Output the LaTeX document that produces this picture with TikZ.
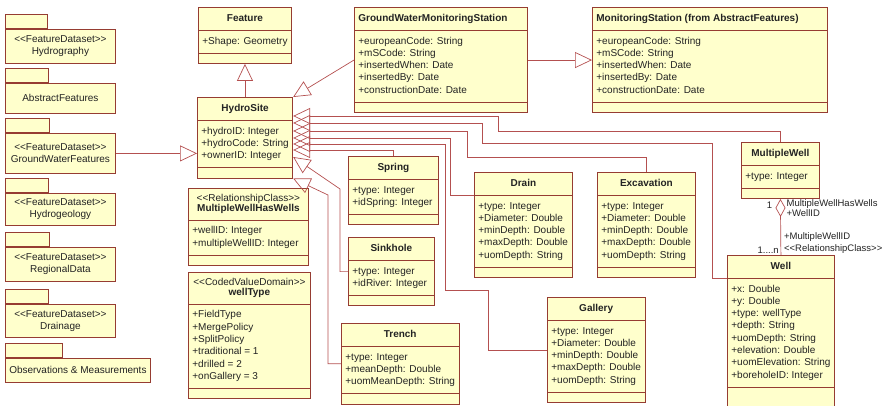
\documentclass[tikz,border=0pt]{standalone}
\usepackage{fontspec}
\setmainfont{Liberation Sans}
\usepackage{tikz}
\usetikzlibrary{arrows.meta,positioning,shapes.multipart}
\usepackage{xcolor}
\definecolor{umlfill}{RGB}{255,255,204}
\definecolor{umledge}{RGB}{150,60,50}
\definecolor{umlline}{RGB}{180,80,80}
\definecolor{umltext}{RGB}{35,35,35}
\tikzset{>=latex}
\newcommand{\umlfont}{\fontsize{10}{12.3}\selectfont}
\newcommand{\stype}[1]{<\kern0pt<#1>\kern0pt>}
\newcommand{\cname}[1]{\strut\textbf{#1}}
\newcommand{\cstereo}[2]{{\renewcommand{\arraystretch}{0.86}\begin{tabular}{@{}c@{}}\stype{#1}\\\textbf{#2}\end{tabular}}}
\newcommand{\cattrs}[1]{\begin{tabular}{@{}l@{}}#1\end{tabular}}
\newcommand{\noops}{\rule{1pt}{0pt}}

\begin{document}
\begin{tikzpicture}[x=1pt, y=-1pt]
                % pixel grid of the reference, y going down
                \tikzstyle{umlclass}=[rectangle split, rectangle split parts=3, draw=umledge, fill=umlfill, line width=0.8pt,
                        inner xsep=4pt, inner ysep=4.85pt, anchor=north west, font=\umlfont, text=umltext,
                        rectangle split part align={center,left,left}]
                \tikzstyle{pkg}=[rectangle, draw=umledge, fill=umlfill, line width=0.8pt, minimum width=110,
                        anchor=north west, align=center, font=\umlfont, text=umltext, inner sep=1pt]
                \tikzstyle{pkgtab}=[rectangle, draw=umledge, fill=umlfill, line width=0.8pt, minimum height=14, inner sep=0pt]
                \tikzstyle{inherit}=[draw=umlline, line width=0.7pt, -{Triangle[open,length=17pt,width=16pt]}]
                \tikzstyle{lbl}=[font=\fontsize{9.5}{12}\selectfont, text=umltext, inner sep=0pt, align=left]
                \useasboundingbox (0,0) rectangle (889,406);

                % packages
                \node[pkg, minimum height=34] (hydrography) at (5,29) {\stype{FeatureDataset}\\Hydrography};
                \node[pkgtab, minimum width=42, above right=0pt of hydrography.north west] (hydrographytab) {};
                \node[pkg, minimum height=30] (abstract) at (5,83) {AbstractFeatures};
                \node[pkgtab, minimum width=43, above right=0pt of abstract.north west] (abstracttab) {};
                \node[pkg, minimum height=40] (gwfeatures) at (5,133) {\stype{FeatureDataset}\\GroundWaterFeatures};
                \node[pkgtab, minimum width=44, above right=0pt of gwfeatures.north west] (gwfeaturestab) {};
                \node[pkg, minimum height=32] (hydrogeology) at (5,193) {\stype{FeatureDataset}\\Hydrogeology};
                \node[pkgtab, minimum width=43, above right=0pt of hydrogeology.north west] (hydrogeologytab) {};
                \node[pkg, minimum height=34] (regional) at (5,247) {\stype{FeatureDataset}\\RegionalData};
                \node[pkgtab, minimum width=44, above right=0pt of regional.north west] (regionaltab) {};
                \node[pkg, minimum height=33] (drainage) at (5,304) {\stype{FeatureDataset}\\Drainage};
                \node[pkgtab, minimum width=43, above right=0pt of drainage.north west] (drainagetab) {};
                \node[pkg, minimum height=24, minimum width=145] (observ) at (5,358) {Observations \& Measurements};
                \node[pkgtab, minimum width=57, above right=0pt of observ.north west] (observtab) {};

                % classes
                \node[umlclass, minimum width=92] (feature) at (198,7) {\cname{Feature}\nodepart{second}\cattrs{+Shape: Geometry}\nodepart{third}\noops};
                \node[umlclass, minimum width=95] (hydro) at (197,97) {\cname{HydroSite}\nodepart{second}\cattrs{+hydroID: Integer\\+hydroCode: String\\+ownerID: Integer}\nodepart{third}\noops};
                \node[umlclass, minimum width=173, rectangle split part align={left,left,left}] (gwms) at (354,7) {\cname{GroundWaterMonitoringStation}\nodepart{second}\cattrs{+europeanCode: String\\+mSCode: String\\+insertedWhen: Date\\+insertedBy: Date\\+constructionDate: Date}\nodepart{third}\noops};
                \node[umlclass, minimum width=235, rectangle split part align={left,left,left}] (ms) at (592,7) {\cname{MonitoringStation (from AbstractFeatures)}\nodepart{second}\cattrs{+europeanCode: String\\+mSCode: String\\+insertedWhen: Date\\+insertedBy: Date\\+constructionDate: Date}\nodepart{third}\noops};
                \node[umlclass, minimum width=120] (mwhw) at (188,188) {\cstereo{RelationshipClass}{MultipleWellHasWells}\nodepart{second}\cattrs{+wellID: Integer\\+multipleWellID: Integer}\nodepart{third}\noops};
                \node[umlclass, minimum width=122] (welltype) at (188,272) {\cstereo{CodedValueDomain}{wellType}\nodepart{second}\cattrs{+FieldType\\+MergePolicy\\+SplitPolicy\\+traditional = 1\\+drilled = 2\\+onGallery = 3}\nodepart{third}\noops};
                \node[umlclass, minimum width=90] (spring) at (348,156) {\cname{Spring}\nodepart{second}\cattrs{+type: Integer\\+idSpring: Integer}\nodepart{third}\noops};
                \node[umlclass, minimum width=86] (sink) at (348,237) {\cname{Sinkhole}\nodepart{second}\cattrs{+type: Integer\\+idRiver: Integer}\nodepart{third}\noops};
                \node[umlclass, minimum width=116] (trench) at (341,323) {\cname{Trench}\nodepart{second}\cattrs{+type: Integer\\+meanDepth: Double\\+uomMeanDepth: String}\nodepart{third}\noops};
                \node[umlclass, minimum width=98] (drain) at (474,172) {\cname{Drain}\nodepart{second}\cattrs{+type: Integer\\+Diameter: Double\\+minDepth: Double\\+maxDepth: Double\\+uomDepth: String}\nodepart{third}\noops};
                \node[umlclass, minimum width=98] (exc) at (597,172) {\cname{Excavation}\nodepart{second}\cattrs{+type: Integer\\+Diameter: Double\\+minDepth: Double\\+maxDepth: Double\\+uomDepth: String}\nodepart{third}\noops};
                \node[umlclass, minimum width=97] (gallery) at (547,297) {\cname{Gallery}\nodepart{second}\cattrs{+type: Integer\\+Diameter: Double\\+minDepth: Double\\+maxDepth: Double\\+uomDepth: String}\nodepart{third}\noops};
                \node[umlclass, minimum width=78] (mw) at (741,142) {\cname{MultipleWell}\nodepart{second}\cattrs{+type: Integer}\nodepart{third}\noops};
                \node[umlclass, minimum width=106] (well) at (727,255) {\cname{Well}\nodepart{second}\cattrs{+x: Double\\+y: Double\\+type: wellType\\+depth: String\\+uomDepth: String\\+elevation: Double\\+uomElevation: String\\+boreholeID: Integer}\nodepart{third}\rule{0pt}{14pt}};

                % generalizations
                \draw[inherit] (gwfeatures.east) -- (gwfeatures.east -| hydro.west);
                \draw[inherit] (hydro.north -| feature.south) -- (feature.south);
                \draw[inherit] (gwms.west) -- (hydro.north east);
                \draw[inherit] (gwms.east) -- (gwms.east -| ms.west);
                \draw[inherit] (mw.north) |- (498,131) |- (hydro.east |- 0,116);
                \draw[inherit] (well.one split west) -| (712,143) -| (482,123) -- (hydro.east |- 0,123);
                \draw[inherit] (exc.north) |- (467,157) |- (hydro.east |- 0,131);
                \draw[inherit] (drain.one split west) -| (450,138) -- (hydro.east |- 0,138);
                \draw[inherit] (gallery.west) -| (488,290) -| (445,144) -- (hydro.east |- 0,144);
                \draw[inherit] (spring.north) |- (hydro.east |- 0,150);
                \draw[inherit] (sink.west) -| (340,189) -- (hydro.east |- 0,157);
                \draw[inherit] (trench.west) -| (328,195) -- (hydro.south east);

                % MultipleWell -- Well
                \draw[draw=umlline, line width=0.7pt, {Diamond[open,length=18pt,width=10pt]}-] (mw.south) -- (well.north);
                \node[lbl, anchor=east] (mwone) at ([xshift=-8pt,yshift=-6pt]mw.south) {1};
                \node[lbl, font=\fontsize{9.5}{9.5}\selectfont, anchor=north west] (mwrole) at ([xshift=6pt,yshift=-1pt]mw.south) {MultipleWellHasWells\\+WellID};
                \node[lbl, anchor=south west] (wellrole) at ([xshift=3pt,yshift=1pt]well.north) {+MultipleWellID\\\stype{RelationshipClass}};
                \node[lbl, anchor=south east] (wellmany) at ([xshift=-2pt,yshift=1pt]well.north) {1....n};
\end{tikzpicture}
\end{document}
